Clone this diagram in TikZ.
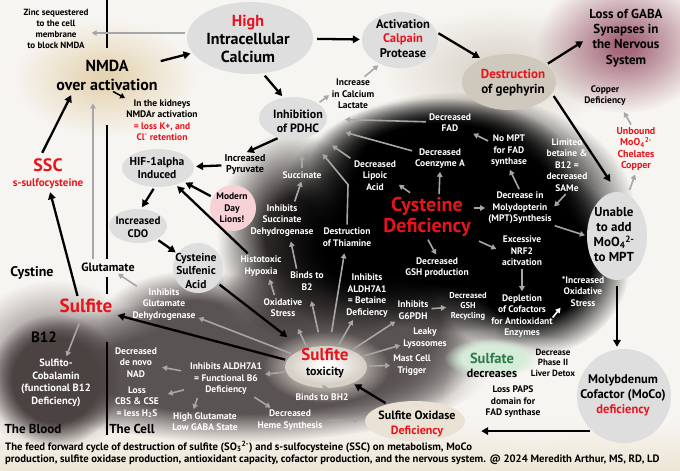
\documentclass[tikz,border=0pt]{standalone}
\usepackage{fontspec}
\setmainfont{PT Sans}
\usetikzlibrary{arrows.meta,shapes.geometric,fadings,calc}
\definecolor{bgc}{HTML}{F7F5F1}
\definecolor{capc}{HTML}{EDE6D6}
\definecolor{redc}{HTML}{E8141C}
\definecolor{bubl}{HTML}{DEDEDE}
\definecolor{gcol}{HTML}{A6A6A6}
\definecolor{gzone}{HTML}{5A5353}
\definecolor{dgzone}{HTML}{2E2929}
\definecolor{gephc}{HTML}{CFC8BD}
\definecolor{soxc}{HTML}{E9E2D5}
\definecolor{toxc}{HTML}{D6D0C6}
\definecolor{pinkc}{HTML}{F6D2D7}
\definecolor{greenbox}{HTML}{D4ECD8}
\definecolor{greent}{HTML}{2E7A4B}
\definecolor{purp}{HTML}{A4687A}
\definecolor{glowc}{HTML}{E3CFA9}
\definecolor{darkc}{HTML}{4B4242}
\definecolor{midg}{HTML}{948C8C}
\pgfdeclareradialshading{softsh}{\pgfpointorigin}{color(0bp)=(white); color(9bp)=(white); color(25bp)=(black); color(50bp)=(black)}
\pgfdeclarefading{soft}{\pgfuseshading{softsh}}
\pgfdeclareradialshading{solidsh}{\pgfpointorigin}{color(0bp)=(white); color(15bp)=(white); color(25bp)=(black); color(50bp)=(black)}
\pgfdeclarefading{solid}{\pgfuseshading{solidsh}}
\pgfdeclareradialshading{glowsh}{\pgfpointorigin}{color(0bp)=(white); color(3bp)=(white); color(25bp)=(black); color(50bp)=(black)}
\pgfdeclarefading{glow}{\pgfuseshading{glowsh}}
\pgfdeclareradialshading{edgesh}{\pgfpointorigin}{color(0bp)=(white); color(16bp)=(white); color(25bp)=(black); color(50bp)=(black)}
\pgfdeclarefading{edge}{\pgfuseshading{edgesh}}
\newcommand{\myfs}[2]{\fontsize{#1}{#2}\selectfont\bfseries}
\tikzset{
  every node/.style={inner sep=1pt, align=center},
  tw/.style={text=white, font=\myfs{9.5}{11.5}},
  tb/.style={text=black, font=\myfs{9.5}{11.5}},
  bub/.style={ellipse, fill=bubl, inner sep=0pt},
  barr/.style={line width=2.3pt, black, -{Triangle[length=7pt,width=7.5pt]}, shorten <=2pt, shorten >=2pt},
  garr/.style={line width=1.6pt, gcol, -{Triangle[length=5pt,width=5.5pt]}, shorten <=2pt, shorten >=2pt},
  warr/.style={line width=1.6pt, white, -{Triangle[length=5pt,width=5.5pt]}},
  divider/.style={line width=1.4pt, black},
}
\begin{document}
\begin{tikzpicture}[x=1pt,y=-1pt]
\useasboundingbox (0,0) rectangle (680,471);
% ---------- background ----------
\fill[bgc] (0,0) rectangle (680,471);
\shade[top color=bgc, bottom color=capc] (0,420) rectangle (680,471);
\fill[glowc, opacity=0.85, path fading=glow] (105,78) ellipse [x radius=90, y radius=58];
\fill[gephc!75!bgc, path fading=glow] (500,72) ellipse [x radius=115, y radius=62];
\fill[purp, path fading=glow] (624,45) ellipse [x radius=88, y radius=68];
% gray zone
\fill[midg, path fading=soft] (55,365) ellipse [x radius=95, y radius=85];
\fill[gzone, path fading=solid] (240,370) ellipse [x radius=250, y radius=72];
\fill[gzone, path fading=solid] (355,322) ellipse [x radius=140, y radius=100];
\fill[gzone, path fading=soft] (195,318) ellipse [x radius=95, y radius=48];
\fill[dgzone, path fading=soft] (292,235) ellipse [x radius=75, y radius=105];
% black zone
\fill[black, path fading=solid] (455,212) ellipse [x radius=180, y radius=120];
\fill[black, path fading=solid] (440,162) ellipse [x radius=130, y radius=64];
\fill[black, path fading=solid] (530,262) ellipse [x radius=100, y radius=95];
\fill[black, path fading=soft] (360,250) ellipse [x radius=95, y radius=85];
% light patches
\fill[bgc, path fading=soft] (150,212) ellipse [x radius=92, y radius=66];
\fill[bgc, path fading=soft] (532,392) ellipse [x radius=90, y radius=58];
\fill[bgc, path fading=soft] (675,250) ellipse [x radius=58, y radius=130];
% sulfito circle and tox halo
\fill[darkc, path fading=edge] (55,380) circle (66);
\fill[toxc, path fading=soft] (326,367) ellipse [x radius=64, y radius=36];
\fill[greenbox, path fading=edge] (492,358) ellipse [x radius=48, y radius=20];
% ---------- divider lines ----------
\draw[divider] (107,0) -- (107,48);
\draw[divider] (107,125) -- (107,259);
\draw[divider] (107,277) -- (107,294);
\draw[divider] (107,342) -- (107,435);
% ---------- bubbles ----------
\node[bub, minimum width=126pt, minimum height=72pt] (calcB) at (250,38) {};
\node[bub, minimum width=76pt, minimum height=56pt] (calpB) at (400,40) {};
\node[bub, minimum width=68pt, minimum height=42pt] (pdhcB) at (293,118) {};
\node[bub, fill=gephc, minimum width=94pt, minimum height=56pt] (gephB) at (509,82) {};
\node[bub, minimum width=60pt, minimum height=88pt] (unabB) at (617,236) {};
\node[circle, fill=bubl, minimum size=94pt, inner sep=0pt] (mocoB) at (624,396) {};
\node[bub, fill=soxc, minimum width=100pt, minimum height=40pt] (soxB) at (415,421) {};
\node[bub, fill=toxc, minimum width=82pt, minimum height=42pt] (toxE) at (326,367) {};
\fill[white, path fading=glow] (326,365) ellipse [x radius=38, y radius=19];
\node[bub, minimum width=72pt, minimum height=38pt] (hifB) at (158,168) {};
\node[bub, minimum width=58pt, minimum height=34pt] (cdoB) at (138,226) {};
\node[circle, fill=bubl, minimum size=50pt, inner sep=0pt] (csaB) at (198,268) {};
\node[circle, fill=pinkc, minimum size=46pt, inner sep=0pt] (lionsB) at (233,208) {};
% ---------- texts ----------
\node[tb, font=\myfs{9}{11}] (zinc) at (56,28.5) {Zinc sequestered\\to the cell\\membrane\\to block NMDA};
\node[font=\myfs{16}{19}] (nmda) at (107,75) {NMDA\\over activation};
\node[tb] (kid) at (162,120) {In the kidneys\\NMDAr activation\\\textcolor{redc}{= loss K+, and}\\\textcolor{redc}{Cl\textsuperscript{-} retention}};
\node[font=\myfs{16}{18}] (calc) at (248,39) {\textcolor{redc}{High}\\Intracellular\\Calcium};
\node[font=\myfs{12.5}{14.5}] (calp) at (403,38.5) {Activation\\\textcolor{redc}{Calpain}\\Protease};
\node[tb] (lact) at (353,94) {Increase\\in Calcium\\Lactate};
\node[font=\myfs{12}{13.5}] (pdhc) at (298,121.5) {Inhibition\\of PDHC};
\node[font=\myfs{13}{15}] (geph) at (513,82.5) {\textcolor{redc}{Destruction}\\of gephyrin};
\node[font=\myfs{13}{15.3}] (gaba) at (626,38) {Loss of GABA\\Synapses in\\the Nervous\\System};
\node[tb] (copper) at (605,95.5) {Copper\\Deficiency};
\node[text=redc, font=\myfs{10}{11.3}] (unb) at (636,149) {Unbound\\MoO\textsubscript{4}\textsuperscript{2-}\\Chelates\\Copper};
\node[font=\myfs{13}{15}] (unab) at (614,234.5) {Unable\\to add\\MoO\textsubscript{4}\textsuperscript{2-}\\to MPT};
\node[font=\myfs{12.5}{15}] (moco) at (623,395) {Molybdenum\\Cofactor (MoCo)\\\textcolor{redc}{deficiency}};
\node[font=\myfs{12}{15}] (sox) at (417,423.5) {Sulfite Oxidase\\\textcolor{redc}{Deficiency}};
\node[text=redc, font=\myfs{17}{17}] (toxS) at (325,355) {Sulfite};
\node[font=\myfs{12}{12}] (toxT) at (325,372) {toxicity};
\node[text=redc, font=\myfs{20}{21}] (cysdef) at (427,217) {Cysteine\\Deficiency};
% white texts in the dark zone
\node[tw] (fad) at (450,122.5) {Decreased\\FAD};
\node[tw] (coa) at (440,158.5) {Decreased\\Coenzyme A};
\node[tw] (lip) at (375,175.5) {Decreased\\Lipoic\\Acid};
\node[tw] (nompt) at (509,151) {No MPT\\for FAD\\synthase};
\node[tw] (limb) at (567,165) {Limited\\betaine \&\\B12 =\\decreased\\SAMe};
\node[tw] (mpt) at (520,208) {Decrease in\\Molydopterin\\(MPT)Synthesis};
\node[tw] (nrf) at (522,251) {Excessive\\NRF2\\acitvation};
\node[tw] (depl) at (522,316) {Depletion\\of Cofactors\\for Antioxidant\\Enzymes};
\node[tw] (incox) at (583,291.5) {*Increased\\Oxidative\\Stress};
\node[tw] (gshp) at (437,267.5) {Decreased\\GSH production};
\node[tw, font=\myfs{8.5}{10}] (gshr) at (468,306) {Decreased\\GSH\\Recycling};
\node[tw] (g6pd) at (413,310) {Inhibits\\G6PDH};
\node[tw] (leaky) at (425,338) {Leaky\\Lysosomes};
\node[tw] (mast) at (412,365) {Mast Cell\\Trigger};
\node[tw] (bh2) at (322,397) {Binds to BH2};
\node[tw] (heme) at (290,420) {Decreased\\Heme Synthesis};
\node[tw] (hglu) at (205,421.5) {High Glutamate\\Low GABA State};
\node[tw] (b6) at (226,379) {Inhibits ALDH7A1\\= Functional B6\\Deficiency};
\node[tw] (cbs) at (137,402) {Loss\\CBS \& CSE\\= less H\textsubscript{2}S};
\node[tw] (nad) at (136,362.5) {Decreased\\de novo\\NAD};
\node[tw] (betd) at (367,295.5) {Inhibits\\ALDH7A1\\= Betaine\\Deficiency};
\node[tw] (b2) at (307,281) {Binds to\\B2};
\node[tw] (oxs) at (283,307.5) {Oxidative\\Stress};
\node[tw] (hyp) at (261,266) {Histotoxic\\Hypoxia};
\node[tw] (thia) at (347,237) {Destruction\\of Thiamine};
\node[tw] (isdh) at (282,220.5) {Inhibits\\Succinate\\Dehydrogenase};
\node[tw] (succ) at (302,175) {Succinate};
\node[tw] (igdh) at (164,304.5) {Inhibits\\Glutamate\\Dehydrogenase};
\node[tw, font=\myfs{10.5}{12.5}] (sulfito) at (56,383) {Sulfito-\\Cobalamin\\(functional B12\\Deficiency)};
% black texts
\node[tb, font=\myfs{10}{11.5}] (pyr) at (245,164.5) {Increased\\Pyruvate};
\node[tb] (lions) at (232,208) {Modern\\Day\\Lions!};
\node[font=\myfs{11.5}{12.5}] (hif) at (157,168) {HIF-1alpha\\Induced};
\node[font=\myfs{11}{13}] (cdo) at (138,227.5) {Increased\\CDO};
\node[font=\myfs{11.5}{13.5}] (csa) at (196,270.5) {Cysteine\\Sulfenic\\Acid};
\node[text=redc, font=\myfs{18}{18}] (sscA) at (48,165) {SSC};
\node[text=redc, font=\myfs{11}{12}] (sscB) at (48,184) {s-sulfocysteine};
\node[font=\myfs{14}{14}] (cyst) at (32,273) {Cystine};
\node[font=\myfs{12}{12}] (glu) at (108,267) {Glutamate};
\node[text=redc, font=\myfs{19}{19}] (sulf) at (86,306) {Sulfite};
\node[font=\myfs{15}{15}] (b12) at (44,337) {B12};
\node[font=\myfs{13}{13}] (blood) at (33,429) {The Blood};
\node[font=\myfs{13}{13}] (cell) at (132,429) {The Cell};
\node[text=greent, font=\myfs{14.5}{15}] (sulfate) at (492,358) {Sulfate};
\node[font=\myfs{12}{12}] (decr) at (492,373) {decreases};
\node[tb, font=\myfs{9}{10.5}] (phase) at (553,362.5) {Decrease\\Phase II\\Liver Detox};
\node[tb] (paps) at (513,402) {Loss PAPS\\domain for\\FAD synthase};
\node[anchor=north west, align=left, inner sep=0pt, font=\myfs{10.7}{12}] (cap) at (5,440.5) {The feed forward cycle of destruction of sulfite (SO\textsubscript{3}\textsuperscript{2-}) and s-sulfocysteine (SSC) on metabolism, MoCo\\production, sulfite oxidase production, antioxidant capacity, cofactor production, and the nervous system. @ 2024 Meredith Arthur, MS, RD, LD};
% ---------- black arrows ----------
\draw[barr] (nmda) -- (calcB);
\draw[barr, shorten <=4pt] (calcB) -- (calpB);
\draw[barr] (calpB.12) -- (gephB.140);
\draw[barr, shorten <=3pt] (calcB.-70) -- (pdhcB.115);
\draw[barr] (pdhcB.-125) -- (pyr.north);
\draw[barr] (pyr) -- (hifB);
\draw[barr] (lionsB) -- (hifB);
\draw[barr] (hyp) -- (hifB);
\draw[barr] (hifB.-100) -- (cdoB.80);
\draw[barr] (cdoB) -- (csaB);
\draw[barr, shorten >=20pt] (csaB) -- (toxE);
\draw[barr, shorten >=4pt] (toxE.170) -- (sulf.south east);
\draw[barr] ([xshift=-8pt]sulf.north) -- (sscB);
\draw[barr, shorten <=5pt, shorten >=4pt] ([xshift=-8pt]sscA.north) -- ([xshift=-34pt]nmda.south);
\draw[line width=1.5pt, black, -{Triangle[length=5pt,width=5.5pt]}] (nmda.-70) -- (kid.north west);
\draw[barr, shorten >=6pt] (gephB.25) -- (gaba.west);
\draw[barr, shorten <=3pt, shorten >=12pt] (gephB.-15) -- (unabB.north);
\draw[barr, shorten <=6pt] (unabB.south) -- (unabB.south |- mocoB.north);
\draw[barr, shorten >=16pt] (mocoB.228) -- (mocoB.228 -| soxB.east);
\draw[barr] (soxB) -- (toxE);
% ---------- gray arrows ----------
\draw[garr] ([yshift=5pt]calcB.west) -- ([yshift=5pt]calcB.west -| zinc.east);
\draw[garr, shorten >=12pt] ([xshift=-15pt]glu.north) -- ([xshift=-15pt]glu.north |- nmda.south);
\draw[garr] (pdhcB.30) -- (lact.west);
\draw[garr] ([xshift=10pt]lact.north) -- (calpB.-130);
\draw[garr, shorten >=18pt] (fad) -- (pdhcB);
\draw[garr, shorten >=22pt] (coa) -- (pdhcB);
\draw[garr, shorten <=3pt, shorten >=20pt] (lip) -- (pdhcB);
\draw[garr, shorten >=22pt] (thia.north) -- ++(1,-42) -- (pdhcB);
\draw[garr, shorten >=16pt] (succ.north) -- (succ.north |- pdhcB.south);
\draw[garr] ([xshift=12pt]isdh.north) -- (succ.south);
\draw[garr, shorten >=4pt] ([xshift=-10pt]b2.north) -- ([xshift=8pt]isdh.south);
\draw[garr] ([xshift=-8pt]oxs.north) -- ([xshift=8pt]hyp.south);
\draw[garr, shorten >=12pt] (toxE.135) -- ([xshift=10pt]oxs.south);
\draw[garr, shorten <=14pt, shorten >=10pt] (toxE) -- (b2);
\draw[garr, shorten <=14pt, shorten >=6pt] (toxE) -- (thia);
\draw[garr] (toxE) -- (betd);
\draw[garr] (toxE) -- (g6pd);
\draw[garr] (toxE) -- (leaky);
\draw[garr] (toxE) -- (mast);
\draw[garr] ([yshift=4pt]toxE.south) -- (bh2.north);
\draw[garr] (toxE) -- (b6);
\draw[garr] (toxE) -- (igdh);
\draw[garr] (igdh) -- (glu);
\draw[garr, shorten <=8pt, shorten >=4pt] (b6) -- (nad);
\draw[garr, shorten <=5pt, shorten >=8pt] (b6) -- (cbs);
\draw[garr] ([xshift=-28pt]b6.south) -- ([xshift=-12pt]hglu.north);
\draw[garr] (b6) -- (heme);
\draw[garr, shorten <=6pt, shorten >=6pt] (heme) -- (soxB);
\draw[garr, shorten <=10pt] (sulf) -- (sulfito);
\draw[garr] ([xshift=12pt]cysdef.north) -- (coa.south);
\draw[garr, shorten <=6pt] (cysdef.120) -- (lip.-20);
\draw[garr] ([yshift=9pt]cysdef.east) -- ([yshift=9pt]cysdef.east -| mpt.west);
\draw[garr] (mpt.north) -- (nompt.south);
\draw[garr] (nompt) -- (fad);
\draw[garr] (limb.south) -- (mpt.east);
\draw[garr] (mpt.south east) -- (unabB.west);
\draw[garr, shorten <=8pt, shorten >=5pt] (cysdef.south east) -- (nrf.west);
\draw[garr] (cysdef.south) -- (gshp.north);
\draw[garr] (nrf.south) -- (depl.north);
\draw[warr, shorten <=-2pt] (depl.east) -- (incox.south west);
\draw[garr] (g6pd) -- (gshr);
\draw[garr, shorten >=6pt] ([xshift=-4pt]unb.north) -- ([xshift=16pt]copper.south);
\draw[garr, shorten >=3pt] ([xshift=12pt]unabB.north) -- (unb.south);
\end{tikzpicture}
\end{document}
